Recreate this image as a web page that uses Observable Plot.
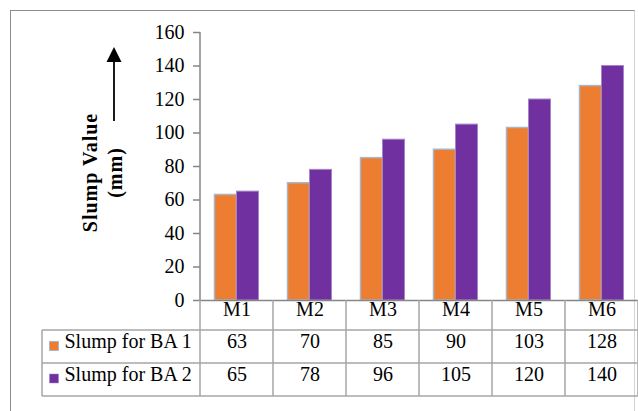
<!DOCTYPE html>
<html>
<head>
<meta charset="utf-8">
<script src="https://cdn.jsdelivr.net/npm/d3@7"></script>
<script src="https://cdn.jsdelivr.net/npm/@observablehq/plot@0.6"></script>
<style>
  html, body { margin: 0; padding: 0; background: #fff; overflow: hidden; }
  #wrap { position: relative; width: 638px; height: 411px; }
  #border { position: absolute; left: 10px; top: 10px; width: 625px; height: 420px;
            border-top: 1.5px solid #8c8c8c; border-left: 1.5px solid #8c8c8c; border-right: 1.5px solid #d4d4d4; box-sizing: border-box; }
  #chart { position: absolute; left: 0; top: 0; }
</style>
</head>
<body>
<div id="wrap"><div id="border"></div><div id="chart"></div></div>
<script>
const categories = ["M1", "M2", "M3", "M4", "M5", "M6"];
const seriesNames = ["Slump for BA 1", "Slump for BA 2"];
const ba1 = [63, 70, 85, 90, 103, 128];
const ba2 = [65, 78, 96, 105, 120, 140];
const yTicks = [0, 20, 40, 60, 80, 100, 120, 140, 160];
const yLabelLines = ["Slump Value", "(mm)"];

const orange = "#ED7D31", purple = "#7030A0";
const serif = "'Liberation Serif', 'Times New Roman', serif";
const fs = 20;

const chart = Plot.plot({
  width: 638,
  height: 411,
  marginLeft: 200,
  marginRight: 0,
  marginTop: 32,
  marginBottom: 111,
  style: { fontFamily: serif, fontSize: fs + "px", color: "#000", background: "transparent", overflow: "visible" },
  x: { domain: categories, padding: 0, axis: null },
  y: { domain: [0, 160], axis: null },
  marks: [
    Plot.axisY({ ticks: yTicks, tickSize: 7, tickPadding: 9, stroke: "#868686", strokeWidth: 1.5, fill: "#000", fontSize: fs, label: null, tickFormat: d => String(d) }),
    Plot.barY(ba1, { x: (d, i) => categories[i], y: d => d, fill: orange, stroke: "#A9B5C7", strokeWidth: 1.5, insetLeft: 14.5, insetRight: 36.5 }),
    Plot.barY(ba2, { x: (d, i) => categories[i], y: d => d, fill: purple, stroke: "#A585C4", strokeWidth: 1, insetLeft: 36.5, insetRight: 14.5 }),
    Plot.ruleY([0], { stroke: "#868686", strokeWidth: 1.5 }),
    // table: header row
    Plot.text(categories, { x: d => d, text: d => d, frameAnchor: "bottom", dy: 15, fontSize: fs, fill: "#000" }),
    // table: value rows
    Plot.text(ba1, { x: (d, i) => categories[i], text: d => String(d), frameAnchor: "bottom", dy: 47.5, fontSize: fs, fill: "#000" }),
    Plot.text(ba2, { x: (d, i) => categories[i], text: d => String(d), frameAnchor: "bottom", dy: 80, fontSize: fs, fill: "#000" }),
    // legend keys in the table
    Plot.text([seriesNames[0]], { frameAnchor: "bottom-left", dx: -136, dy: 47.5, textAnchor: "start", fontSize: fs, fill: "#000" }),
    Plot.text([seriesNames[1]], { frameAnchor: "bottom-left", dx: -136, dy: 80, textAnchor: "start", fontSize: fs, fill: "#000" }),
    Plot.dot([seriesNames[0]], { frameAnchor: "bottom-left", dx: -146.5, dy: 45.5, symbol: "square", r: 5.1, fill: orange, stroke: "#A9B5C7", strokeWidth: 1 }),
    Plot.dot([seriesNames[1]], { frameAnchor: "bottom-left", dx: -146.5, dy: 78, symbol: "square", r: 5.1, fill: purple, stroke: "#A585C4", strokeWidth: 0.5 }),
    // y label
    Plot.text([yLabelLines[0]], { frameAnchor: "left", textAnchor: "middle", rotate: -90, dx: -110, dy: 6, fontWeight: "bold", fontSize: fs, fill: "#000" }),
    Plot.text([yLabelLines[1]], { frameAnchor: "left", textAnchor: "middle", rotate: -90, dx: -85, dy: 6, fontWeight: "bold", fontSize: fs, fill: "#000" })
  ]
});

document.getElementById("chart").appendChild(chart);

// table grid and axis line, positioned through the plot's own scales
const xs = chart.scale("x"), ys = chart.scale("y");
const bw = xs.bandwidth;
const yTop = ys.apply(160), y0 = ys.apply(0);
const rowH = [30, 33, 33];
const r1 = y0 + rowH[0], r2 = r1 + rowH[1], r3 = r2 + rowH[2];
const left = xs.apply(categories[0]);
const right = xs.apply(categories[categories.length - 1]) + bw;
const legendLeft = 42;
const svg = d3.select(chart);
const g = svg.append("g").attr("stroke", "#A6A6A6").attr("stroke-width", 1.5).attr("fill", "none");
// y axis line
svg.append("line").attr("x1", left).attr("x2", left).attr("y1", yTop).attr("y2", y0).attr("stroke", "#868686").attr("stroke-width", 1.5);
// column separators
const bounds = categories.map(c => xs.apply(c)).concat([right]);
bounds.forEach(bx => g.append("line").attr("x1", bx).attr("x2", bx).attr("y1", y0).attr("y2", r3));
g.append("line").attr("x1", legendLeft).attr("x2", legendLeft).attr("y1", r1).attr("y2", r3);
[r1, r2, r3].forEach(ry => g.append("line").attr("x1", legendLeft).attr("x2", right).attr("y1", ry).attr("y2", ry));

// letter spacing of the y label
svg.selectAll("text").filter(function () { return yLabelLines.includes(this.textContent); })
  .attr("letter-spacing", "1px");

// arrow next to the y label
const ax = 114;
svg.append("line").attr("x1", ax).attr("x2", ax).attr("y1", 121).attr("y2", 60).attr("stroke", "#000").attr("stroke-width", 1.8);
svg.append("path").attr("d", `M${ax},47 L${ax - 7.5},62 L${ax + 7.5},62 Z`).attr("fill", "#000");
</script>
</body>
</html>
